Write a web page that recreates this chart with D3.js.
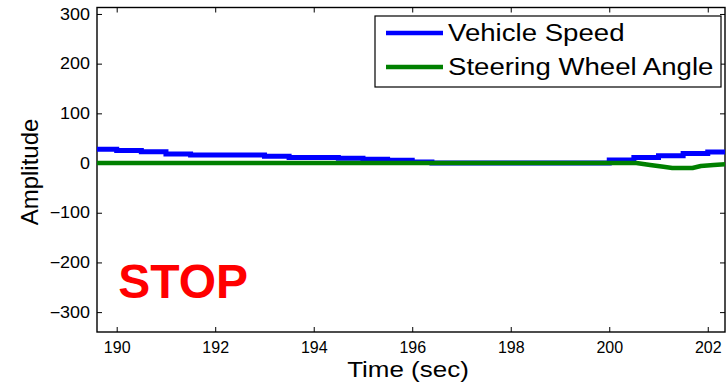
<!DOCTYPE html>
<html>
<head>
<meta charset="utf-8">
<script src="https://cdn.jsdelivr.net/npm/d3@7"></script>
<style>
  html, body { margin: 0; padding: 0; background: #fff; }
  svg { display: block; font-family: "Liberation Sans", Arial, sans-serif; }
</style>
</head>
<body>
<svg id="chart" width="728" height="382"></svg>
<script>
// step data
const speedTime = [189.6, 190.0, 190.5, 191.0, 191.5, 193.0, 193.5, 194.5, 195.0, 195.5, 196.0, 196.4, 200.0, 200.5, 201.0, 201.5, 202.0, 202.4];
const speedVal = [28, 25, 22.5, 18, 16, 13.5, 11, 9.5, 7.5, 5.5, 2, 0, 6, 11, 14.5, 19, 22, 22];

const steerTime = [189.6, 200.55, 200.83, 201.1, 201.28, 201.69, 201.86, 202.12, 202.4];
const steerVal = [0, 0, -4, -7.5, -10, -10, -6, -4, -2];

const xTicks = [190, 192, 194, 196, 198, 200, 202];
const yTicks = [-300, -200, -100, 0, 100, 200, 300];

const seriesNames = ["Vehicle Speed", "Steering Wheel Angle"];
const seriesColors = ["#0000ff", "#008000"];

const stopLabel = { text: "STOP", t: 190.03, v: -271 };

const svg = d3.select("#chart");
const margin = { top: 7.5, right: 3, bottom: 50, left: 97 };
const width = 728 - margin.left - margin.right;
const height = 382 - margin.top - margin.bottom;

const x = d3.scaleLinear().domain([189.6, 202.35]).range([0, width]);
const y = d3.scaleLinear().domain([-340, 313]).range([height, 0]);

const g = svg.append("g").attr("transform", `translate(${margin.left},${margin.top})`);

g.append("clipPath").attr("id", "clip")
  .append("rect").attr("width", width).attr("height", height);

// stretch text a bit wider, like the original picture
function widen(sel, factor) {
  sel.each(function () {
    const w = this.getComputedTextLength();
    d3.select(this).attr("textLength", w * factor).attr("lengthAdjust", "spacingAndGlyphs");
  });
}

function styleAxis(axisG) {
  axisG.select(".domain").remove();
  axisG.selectAll("line").attr("stroke", "#000").attr("stroke-width", 1);
  axisG.selectAll("text").attr("fill", "#000").style("font-size", "16px");
}

const bottomAxis = g.append("g").attr("transform", `translate(0,${height})`)
  .call(d3.axisBottom(x).tickValues(xTicks).tickSize(-5).tickPadding(10).tickFormat(d3.format("d")));
styleAxis(bottomAxis);

g.append("g")
  .call(d3.axisTop(x).tickValues(xTicks).tickSize(-5).tickFormat(""))
  .call(styleAxis);

const leftAxis = g.append("g")
  .call(d3.axisLeft(y).tickValues(yTicks).tickSize(-5).tickPadding(7).tickFormat(d3.format("d")));
styleAxis(leftAxis);
widen(leftAxis.selectAll("text"), 1.12);

g.append("g").attr("transform", `translate(${width},0)`)
  .call(d3.axisRight(y).tickValues(yTicks).tickSize(-5).tickFormat(""))
  .call(styleAxis);

// box
g.append("rect")
  .attr("width", width).attr("height", height)
  .attr("fill", "none").attr("stroke", "#000").attr("stroke-width", 1.4);

const line = d3.line()
  .x(d => x(d[0]))
  .y(d => y(d[1]))
  .curve(d3.curveStepAfter);

const steerLine = d3.line()
  .x(d => x(d[0]))
  .y(d => y(d[1]));

const lines = g.append("g").attr("clip-path", "url(#clip)");

lines.append("path")
  .datum(d3.zip(speedTime, speedVal))
  .attr("d", line)
  .attr("fill", "none")
  .attr("stroke", seriesColors[0])
  .attr("stroke-width", 5);

lines.append("path")
  .datum(d3.zip(steerTime, steerVal))
  .attr("d", steerLine)
  .attr("fill", "none")
  .attr("stroke", seriesColors[1])
  .attr("stroke-width", 4.5)
  .attr("stroke-linejoin", "round");

// STOP annotation
g.append("text")
  .attr("x", x(stopLabel.t))
  .attr("y", y(stopLabel.v))
  .attr("fill", "#ff0000")
  .style("font-size", "48px")
  .style("font-weight", "bold")
  .text(stopLabel.text);

// legend
const legend = g.append("g").attr("transform", `translate(${375 - margin.left},${16 - margin.top})`);
legend.append("rect")
  .attr("width", 346).attr("height", 71)
  .attr("fill", "#fff").attr("stroke", "#000").attr("stroke-width", 1.2);

seriesNames.forEach((name, i) => {
  const row = legend.append("g").attr("transform", `translate(0,${17 + i * 34})`);
  row.append("line")
    .attr("x1", 11).attr("x2", 68)
    .attr("stroke", seriesColors[i]).attr("stroke-width", 4.5);
  const t = row.append("text")
    .attr("x", 73).attr("dy", "0.35em")
    .attr("fill", "#000")
    .style("font-size", "23px")
    .text(name);
  widen(t, 1.2);
});

// axis titles
const xTitle = svg.append("text")
  .attr("x", 408).attr("y", 377)
  .attr("text-anchor", "middle")
  .attr("fill", "#000")
  .style("font-size", "22px")
  .text("Time (sec)");
widen(xTitle, 1.18);

svg.append("text")
  .attr("transform", "translate(38,172) rotate(-90)")
  .attr("text-anchor", "middle")
  .attr("fill", "#000")
  .style("font-size", "24px")
  .text("Amplitude");
</script>
</body>
</html>
